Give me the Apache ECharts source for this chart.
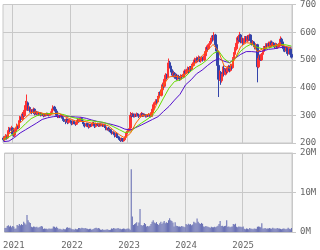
<!DOCTYPE html>
<html><head><meta charset="utf-8">
<script src="https://cdn.jsdelivr.net/npm/echarts@6/dist/echarts.min.js"></script>
<style>html,body{margin:0;padding:0;background:#fff}#c{width:320px;height:250px}</style>
</head><body><div id="c"></div>
<script>
// weekly bars, first week ending 2020-11-06
const firstWeek = '2020-11-06';
const weekCount = 262;

const openP = [
218,212,219,227,218,238,252,247,254,233,
228,240,250,262,255,275,290,286,305,298,
318,335,345,320,328,315,318,310,322,306,
312,305,310,302,308,300,305,298,303,300,
306,302,300,304,310,318,330,322,315,300,
296,298,295,300,292,285,282,278,285,275,
280,280,274,270,278,272,268,276,282,278,
285,288,280,272,266,262,270,264,258,266,
262,268,272,264,260,270,266,262,268,264,
266,262,266,258,250,254,246,248,240,236,
238,232,226,234,222,218,214,210,216,208,
212,220,232,240,246,254,300,298,304,296,
302,298,305,300,296,302,306,298,303,300,
296,300,298,304,296,310,322,338,345,352,
348,365,378,372,392,410,405,430,445,438,
470,490,478,460,445,452,438,445,432,440,
436,430,442,438,448,460,452,462,470,458,
472,466,480,490,500,492,505,498,510,496,
502,508,500,515,530,545,540,555,560,572,
580,575,590,555,532,480,430,455,425,445,
470,448,465,458,470,476,462,480,472,505,
520,540,560,580,572,590,565,575,560,572,
580,568,585,575,590,570,560,565,550,545,
555,475,505,515,500,520,530,545,540,555,
550,560,548,565,555,560,552,548,556,545,
550,560,575,565,550,540,535,545,530,525,
540,520];
const closeP = [
212,220,226,218,240,252,246,255,232,228,
240,250,262,255,275,290,285,305,298,318,
335,345,320,328,315,318,310,322,306,312,
305,310,302,308,300,305,298,303,300,306,
302,300,304,310,318,330,322,315,300,296,
298,295,300,292,285,282,278,285,275,280,
280,274,270,278,272,268,276,282,278,285,
288,280,272,266,262,270,264,258,266,262,
268,272,264,260,270,266,262,268,264,266,
262,266,258,250,254,246,248,240,236,238,
232,226,234,222,218,214,210,216,208,212,
220,232,240,246,252,300,298,304,296,302,
298,305,300,296,302,306,298,303,300,296,
300,298,304,296,310,322,338,345,352,348,
365,378,372,392,410,405,430,445,438,470,
490,478,460,445,452,438,445,432,440,436,
430,442,438,448,460,452,462,470,458,472,
466,480,490,500,492,505,498,510,496,502,
508,500,515,530,545,540,555,560,572,580,
575,590,555,532,480,430,455,425,445,470,
448,465,458,470,476,462,480,472,505,520,
540,560,580,572,590,565,575,560,572,580,
568,585,575,590,570,560,565,550,545,555,
475,505,515,500,520,530,545,540,555,550,
560,548,565,555,560,552,548,556,545,550,
560,575,565,550,540,535,545,530,525,540,
520,510];
const highP = [
224,226,232,230,246,258,256,262,256,238,
246,256,270,266,282,298,296,312,312,326,
352,375,350,336,332,324,322,328,325,318,
316,314,313,312,311,309,308,306,307,310,
309,306,307,314,324,336,334,326,318,304,
302,301,304,303,296,290,287,290,288,286,
286,284,278,282,281,276,280,287,285,290,
293,292,284,276,270,274,273,267,270,270,
272,276,276,268,274,273,270,272,271,270,
270,270,269,261,258,258,252,251,244,242,
242,236,238,236,226,222,218,220,218,216,
224,236,244,250,256,312,308,310,306,306,
306,310,308,304,306,312,309,307,306,304,
304,304,308,306,314,328,345,350,358,358,
370,384,386,398,418,420,436,452,450,490,
505,496,482,466,458,456,450,450,446,446,
442,448,446,454,466,465,468,476,474,478,
478,486,496,508,504,512,510,516,512,508,
514,512,520,536,552,550,560,568,580,588,
590,600,594,560,536,486,462,460,450,476,
480,470,472,474,482,480,486,484,510,528,
546,566,586,588,601,594,582,580,578,586,
586,590,590,595,592,575,570,568,556,560,
558,510,520,518,525,535,550,550,560,560,
566,565,570,570,564,564,558,562,560,556,
566,585,580,568,556,545,550,550,536,545,
545,530];
const lowP = [
206,208,215,212,215,234,240,242,228,222,
222,234,245,250,250,270,278,280,292,294,
310,330,316,316,310,308,304,306,300,302,
300,302,298,299,296,297,293,295,296,297,
298,296,297,301,306,314,318,310,296,290,
290,290,292,288,280,276,268,274,268,270,
274,270,264,266,268,262,265,272,273,275,
280,277,268,260,256,258,260,252,255,258,
258,264,260,254,256,262,258,258,260,260,
258,258,254,246,246,242,242,236,230,232,
228,220,222,218,212,208,204,206,204,205,
208,218,228,236,242,252,292,294,292,292,
294,295,296,290,292,298,294,294,296,292,
292,294,295,292,294,306,318,332,340,340,
344,360,366,368,388,398,400,424,430,434,
462,470,455,438,440,432,434,426,428,430,
424,426,432,434,444,448,448,456,452,454,
460,462,476,486,488,488,494,494,492,490,
496,494,496,510,526,532,536,548,555,566,
566,570,550,526,470,366,424,410,418,440,
440,444,450,452,464,455,458,464,468,500,
515,534,554,566,568,560,560,554,556,566,
562,564,570,570,565,552,554,546,538,540,
419,470,498,496,496,515,526,534,536,544,
545,542,544,550,550,546,542,544,540,540,
546,556,560,545,530,528,530,522,515,520,
512,505];
// volume, millions of shares
const volumeM = [
1.0,1.1, 1.5,1.7,1.4,1.6,1.2,1.5,1.3, 0.8,0.9, 1.8,1.6,2.0,1.7,
2.0,1.8,2.6,2.2,1.9, 4.3,3.0, 2.5,2.3,
1.3,1.2,1.4,1.3,1.2,1.3,1.1,1.2,1.3, 1.5,1.4,
0.8,0.9,0.8,0.8,0.7,0.9,0.8,0.8,0.9, 1.4,1.3,1.1,1.3,1.0,
0.7,0.8,0.7,0.6,0.8,0.7,0.7, 1.1,1.2,1.0,1.1,0.9,
0.7,0.7,0.6,0.8,0.7,0.7, 1.0,1.0,0.9,1.1,1.0,0.9,1.0,0.9,
0.8,0.7,0.8,0.8,0.6,0.7,0.8, 1.0,1.1,0.9,1.0,0.9,
0.6,0.6,0.7,0.5,0.6,0.6,0.7,0.6,0.5,0.6,
0.9,0.8,1.0,0.9,0.8,0.9,1.0,0.8,
0.8,0.7,0.8,0.9,0.8,0.7,0.8,0.9,0.8, 0.6, 15.9, 3.9, 1.8,2.0,
2.2,2.5,1.6,2.4, 5.8, 1.8,1.6,1.8,
2.3,2.0,1.4,1.5,1.4,1.6,2.0, 2.6,3.0,2.4,2.2,2.5,2.0,1.8,
2.2,2.6,2.0,2.4,2.8,2.2,2.5,2.3,3.0,3.5, 3.0,2.8,2.4,
1.4,2.5,1.6,1.5,1.4, 1.4,1.3,1.5,1.4,1.3,1.2,
2.0,1.8,2.1,1.9,2.0,1.7,1.9, 2.6,2.4,2.2, 3.4,2.6, 2.2,2.0,2.3,2.1,
1.4,1.3,1.5,1.4,1.3, 1.2,1.1,1.3,1.2,1.2, 1.3,1.2,1.4,1.6,2.0,2.8,
1.5,1.6,1.4,1.5,1.6, 3.0, 1.3,1.4,1.2,1.3,1.4, 2.0,1.9,2.1,
1.3,1.2,1.4,1.3,1.3,1.2,1.4,
0.8,0.7,0.9,0.8,0.7,1.0,0.8,0.8,0.7,0.9,0.8,0.8,
1.3,1.4,1.3,1.2,2.2,
0.9,0.9,1.0,0.8,0.9,0.9,1.0,0.9,0.8,1.1,0.9,0.9,0.8,1.0,0.9,0.9,
0.8,0.7,0.8,0.9,0.8,0.7,0.8,1.1,0.8,0.7,1.0];
// moving averages read at these week indices
const maWeekIdx = [0,5,10,15,20,25,30,35,40,45,50,55,60,65,70,75,80,85,90,95,
100,105,110,115,120,125,130,135,140,145,150,155,160,165,170,175,180,185,190,195,
200,205,210,215,220,225,230,235,240,245,250,255,261];
const maShort = [218,232,254,272,292,310,312,308,302,305,
308,296,288,280,278,277,272,270,268,262,
245,230,218,235,272,298,302,306,350,410,
438,442,437,450,470,495,515,535,556,530,
478,470,505,548,562,560,530,540,548,552,
556,550,542];
const maMid = [212,222,236,250,270,288,298,305,306,307,
306,302,295,290,286,282,280,277,275,268,
258,248,238,240,258,272,285,300,325,362,
398,422,428,440,460,475,486,502,523,532,
504,490,505,532,548,558,545,540,543,548,
556,555,550];
const maLong = [205,207,220,236,248,260,272,285,291,295,
297,297,296,294,293,289,283,278,274,270,
265,259,250,247,256,265,275,285,295,314,
332,355,376,410,428,450,463,480,495,505,
495,490,506,520,530,530,528,532,538,540,
544,546,546];
const priceTicks = {min: 200, max: 700, step: 100};
const volTicks = {min: 0, max: 20, step: 10};

// build categories
const dates = [];
const t0 = Date.parse(firstWeek + 'T00:00:00Z');
for (let i = 0; i < weekCount; i++) {
  dates.push(new Date(t0 + i * 7 * 86400000).toISOString().slice(0, 10));
}
const yearStart = new Set();
for (let i = 1; i < dates.length; i++) {
  if (dates[i].slice(0, 4) !== dates[i - 1].slice(0, 4)) yearStart.add(i);
}
const isYear = (idx) => yearStart.has(idx);
const candles = dates.map((d, i) => [openP[i], closeP[i], lowP[i], highP[i]]);
function maSeries(vals) {
  const arr = new Array(dates.length).fill(null);
  maWeekIdx.forEach((w, k) => { arr[w] = vals[k]; });
  return arr;
}

const gridCol = '#c8c8c8';
const lab = {color: '#666', fontFamily: 'DejaVu Sans Mono', fontSize: 9};
const chart = echarts.init(document.getElementById('c'), null, {renderer: 'canvas'});
chart.setOption({
  animation: false,
  backgroundColor: '#ffffff',
  grid: [
    {left: 3, right: 28, top: 4, height: 139, show: true, backgroundColor: '#f0f0f0', borderColor: gridCol, borderWidth: 1},
    {left: 3, right: 28, top: 153, height: 79, show: true, backgroundColor: '#f0f0f0', borderColor: gridCol, borderWidth: 1}
  ],
  xAxis: [
    {type: 'category', gridIndex: 0, data: dates, boundaryGap: true,
     axisLine: {show: false}, axisTick: {show: false}, axisLabel: {show: false},
     splitLine: {show: true, interval: isYear, lineStyle: {color: gridCol, width: 1}}},
    {type: 'category', gridIndex: 1, data: dates, boundaryGap: true,
     axisLine: {show: false}, axisTick: {show: false},
     axisLabel: Object.assign({show: true, interval: isYear, margin: 9, formatter: v => v.slice(0, 4)}, lab),
     splitLine: {show: true, interval: isYear, lineStyle: {color: gridCol, width: 1}}}
  ],
  yAxis: [
    {type: 'value', gridIndex: 0, position: 'right', min: priceTicks.min, max: priceTicks.max, interval: priceTicks.step,
     axisLine: {show: true, lineStyle: {color: gridCol}}, axisTick: {show: true, length: 4, lineStyle: {color: gridCol}},
     axisLabel: Object.assign({margin: 8}, lab),
     splitLine: {show: true, lineStyle: {color: gridCol, width: 1}}},
    {type: 'value', gridIndex: 1, position: 'right', min: volTicks.min, max: volTicks.max, interval: volTicks.step,
     axisLine: {show: true, lineStyle: {color: gridCol}}, axisTick: {show: true, length: 4, lineStyle: {color: gridCol}},
     axisLabel: Object.assign({margin: 8, formatter: '{value}M'}, lab),
     splitLine: {show: true, lineStyle: {color: gridCol, width: 1}}}
  ],
  series: [
    {type: 'candlestick', xAxisIndex: 0, yAxisIndex: 0, data: candles, barWidth: 2,
     itemStyle: {color: '#ff3333', color0: '#3344aa', borderColor: '#ff3333', borderColor0: '#3344aa', borderWidth: 1}},
    {type: 'line', xAxisIndex: 0, yAxisIndex: 0, data: maSeries(maLong), connectNulls: true, showSymbol: false,
     lineStyle: {color: '#5511cc', width: 1}},
    {type: 'line', xAxisIndex: 0, yAxisIndex: 0, data: maSeries(maMid), connectNulls: true, showSymbol: false,
     lineStyle: {color: '#66dd00', width: 1}},
    {type: 'line', xAxisIndex: 0, yAxisIndex: 0, data: maSeries(maShort), connectNulls: true, showSymbol: false,
     lineStyle: {color: '#ff6600', width: 1}},
    {type: 'bar', xAxisIndex: 1, yAxisIndex: 1, data: volumeM, barCategoryGap: '0%',
     itemStyle: {color: '#6b72b5'}}
  ]
});
</script></body></html>
